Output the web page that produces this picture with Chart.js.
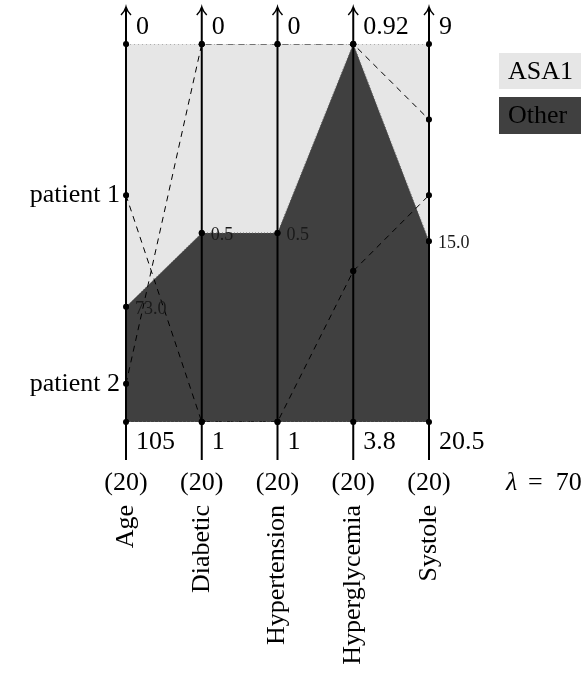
<!DOCTYPE html>
<html>
<head>
<meta charset="utf-8">
<script src="https://cdn.jsdelivr.net/npm/chart.js@4"></script>
<style>
  body { margin: 0; background: #fff; }
  canvas { display: block; }
</style>
</head>
<body>
<canvas id="chart" width="581" height="679"></canvas>
<script>
// Achsen (von links nach rechts)
const axisNames = ['Age', 'Diabetic', 'Hypertension', 'Hyperglycemia', 'Systole'];
const axisTop = [0, 0, 0, 0.92, 9];
const axisBottom = [105, 1, 1, 3.8, 20.5];
const axisCounts = [20, 20, 20, 20, 20];

// Grenze zwischen den Klassen
const boundary = [73.0, 0.5, 0.5, 0.92, 15.0];
const classNames = ['ASA1', 'Other'];

// Patienten
const patient1 = [42, 1, 1, 2.65, 13.6];
const patient2 = [94.4, 0, 0, 0.92, 11.3];
const patientNames = ['patient 1', 'patient 2'];

const lambda = 70;

const FONT = '"Liberation Serif", "Times New Roman", serif';
const light = '#e6e6e6';
const dark = '#404040';

// Werte auf 0..1 pro Achse normieren
function norm(values) {
    return values.map((v, i) => ({ x: i, y: (v - axisTop[i]) / (axisBottom[i] - axisTop[i]) }));
}

const topEdge = norm(axisTop);
const bottomEdge = norm(axisBottom);

const axesPlugin = {
    id: 'parallelAxes',
    afterDatasetsDraw(chart) {
        const ctx = chart.ctx;
        const xs = chart.scales.x;
        const ys = chart.scales.y;
        const yBot = ys.getPixelForValue(1);

        ctx.save();
        axisNames.forEach((name, i) => {
            const x = xs.getPixelForValue(i);

            // Achse mit Pfeil
            ctx.strokeStyle = '#000';
            ctx.lineWidth = 2;
            ctx.beginPath();
            ctx.moveTo(x, 8);
            ctx.lineTo(x, yBot + 38);
            ctx.stroke();
            ctx.lineWidth = 1.5;
            ctx.beginPath();
            ctx.moveTo(x - 5, 15);
            ctx.quadraticCurveTo(x - 1, 11, x, 7);
            ctx.quadraticCurveTo(x + 1, 11, x + 5, 15);
            ctx.stroke();

            ctx.fillStyle = '#000';
            ctx.font = '26px ' + FONT;
            ctx.textBaseline = 'middle';
            ctx.textAlign = 'left';
            ctx.fillText(String(axisTop[i]), x + 10, 27);
            ctx.fillText(String(axisBottom[i]), x + 10, 442);

            ctx.textAlign = 'center';
            ctx.fillText('(' + axisCounts[i] + ')', x, 483);

            // Grenzwert
            if (boundary[i] !== axisTop[i] && boundary[i] !== axisBottom[i]) {
                const yb = ys.getPixelForValue((boundary[i] - axisTop[i]) / (axisBottom[i] - axisTop[i]));
                ctx.font = '18px ' + FONT;
                ctx.textAlign = 'left';
                ctx.fillStyle = '#1a1a1a';
                ctx.fillText(boundary[i].toFixed(1), x + 9, yb + 2);
            }

            // Achsenname (gedreht)
            ctx.save();
            ctx.translate(x, 505);
            ctx.rotate(-Math.PI / 2);
            ctx.font = '26px ' + FONT;
            ctx.fillStyle = '#000';
            ctx.textAlign = 'right';
            ctx.textBaseline = 'middle';
            ctx.fillText(name, 0, 0);
            ctx.restore();
        });

        // Punkte über den Achsen nochmal zeichnen
        chart.data.datasets.forEach((ds, k) => {
            if (!ds.pointRadius) return;
            chart.getDatasetMeta(k).data.forEach(pt => {
                ctx.fillStyle = '#000';
                ctx.beginPath();
                ctx.arc(pt.x, pt.y, 3, 0, Math.PI * 2);
                ctx.fill();
            });
        });

        // Patientennamen
        const x0 = xs.getPixelForValue(0);
        ctx.font = '26px ' + FONT;
        ctx.fillStyle = '#000';
        ctx.textAlign = 'right';
        ctx.textBaseline = 'middle';
        [patient1, patient2].forEach((p, k) => {
            const y = ys.getPixelForValue(norm(p)[0].y);
            ctx.fillText(patientNames[k], x0 - 6, y);
        });

        // Legende
        ctx.textAlign = 'left';
        ctx.fillStyle = light;
        ctx.fillRect(499, 53, 90, 36);
        ctx.fillStyle = dark;
        ctx.fillRect(499, 97, 90, 37);
        ctx.fillStyle = '#000';
        ctx.fillText(classNames[0], 508, 72);
        ctx.fillText(classNames[1], 508, 116);

        ctx.font = 'italic 26px ' + FONT;
        ctx.fillText('\u03bb', 506, 483);
        ctx.font = '26px ' + FONT;
        ctx.fillText('=  ' + lambda, 528, 483);
        ctx.restore();
    }
};

const pointStyle = {
    pointRadius: 3,
    pointBackgroundColor: '#000',
    pointBorderWidth: 0,
    tension: 0,
    order: 0
};

new Chart(document.getElementById('chart'), {
    type: 'line',
    data: {
        datasets: [
            {
                label: classNames[0],
                data: norm(boundary),
                fill: { value: 0 },
                backgroundColor: light,
                borderWidth: 0,
                pointRadius: 0,
                order: 10
            },
            {
                label: classNames[1],
                data: norm(boundary),
                fill: { value: 1 },
                backgroundColor: dark,
                borderWidth: 0,
                pointRadius: 0,
                order: 9
            },
            Object.assign({
                label: 'boundary',
                data: norm(boundary),
                borderColor: '#666',
                borderWidth: 1,
                borderDash: [1, 2],
                fill: false
            }, pointStyle),
            Object.assign({
                label: 'top',
                data: topEdge,
                borderColor: '#777',
                borderWidth: 1,
                borderDash: [1, 3],
                fill: false
            }, pointStyle),
            Object.assign({
                label: 'bottom',
                data: bottomEdge,
                borderColor: '#777',
                borderWidth: 1,
                borderDash: [1, 3],
                fill: false
            }, pointStyle),
            Object.assign({
                label: patientNames[0],
                data: norm(patient1),
                borderColor: '#000',
                borderWidth: 1,
                borderDash: [6, 5],
                fill: false
            }, pointStyle),
            Object.assign({
                label: patientNames[1],
                data: norm(patient2),
                borderColor: '#000',
                borderWidth: 1,
                borderDash: [6, 5],
                fill: false
            }, pointStyle)
        ]
    },
    options: {
        responsive: false,
        animation: false,
        devicePixelRatio: 1,
        layout: { padding: { left: 126, right: 152, top: 44, bottom: 257 } },
        scales: {
            x: { type: 'linear', min: 0, max: 4, display: false },
            y: { type: 'linear', min: 0, max: 1, reverse: true, display: false }
        },
        plugins: {
            legend: { display: false },
            tooltip: { enabled: false }
        }
    },
    plugins: [axesPlugin]
});
</script>
</body>
</html>
